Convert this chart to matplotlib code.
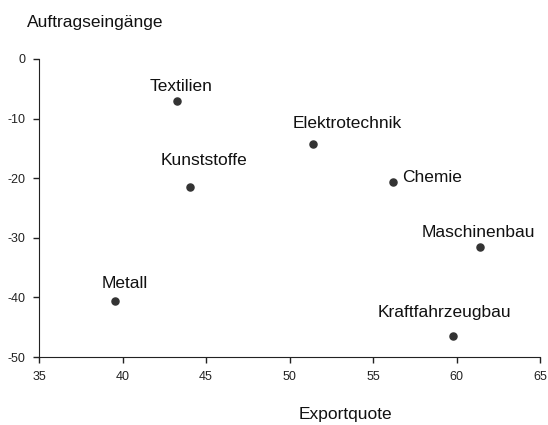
import matplotlib.pyplot as plt

# Branchen: Exportquote vs. Auftragseingänge
branchen = ['Textilien', 'Elektrotechnik', 'Kunststoffe', 'Chemie',
            'Maschinenbau', 'Metall', 'Kraftfahrzeugbau']
exportquote = [43.26, 51.4, 44.05, 56.2, 61.4, 39.55, 59.8]
auftraege = [-7.05, -14.3, -21.5, -20.7, -31.5, -40.6, -46.5]

# Beschriftungs-Versatz (Pixel: Mitte/Anfang des Textes, Grundlinie)
offsets = [(4, 10), (34, 16), (14, 22), (9, 0), (-2, 10), (10, 13), (-9, 19)]
aligns = ['center', 'center', 'center', 'left', 'center', 'center', 'center']

plt.rcParams['font.family'] = ['Liberation Sans Narrow', 'Liberation Sans', 'DejaVu Sans']
plt.rcParams['axes.unicode_minus'] = False

fig = plt.figure(figsize=(5.48, 4.25), dpi=100)
ax = fig.add_axes([0.0712, 0.16, 0.9142, 0.7012])

ax.scatter(exportquote, auftraege, s=26, color='#333333', zorder=3)
for name, x, y, off, ha in zip(branchen, exportquote, auftraege, offsets, aligns):
    ax.annotate(name, (x, y), xytext=off, textcoords='offset pixels',
                ha=ha, va='baseline', fontsize=12.5, color='#111111')

ax.set_xlim(35, 65)
ax.set_ylim(-50, 0)
ax.set_xticks(range(35, 66, 5))
ax.set_yticks(range(-50, 1, 10))
ax.tick_params(labelsize=9, length=4, width=1, pad=6, colors='#222222')
ax.spines['top'].set_visible(False)
ax.spines['right'].set_visible(False)
for s in ('left', 'bottom'):
    ax.spines[s].set_color('#222222')

fig.text(0.049, 0.948, 'Auftragseingänge', fontsize=12.5, va='center', ha='left',
         color='#111111')
fig.text(0.63, 0.025, 'Exportquote', fontsize=12.5, va='center', ha='center',
         color='#111111')

fig.savefig('out.png', dpi=100)
